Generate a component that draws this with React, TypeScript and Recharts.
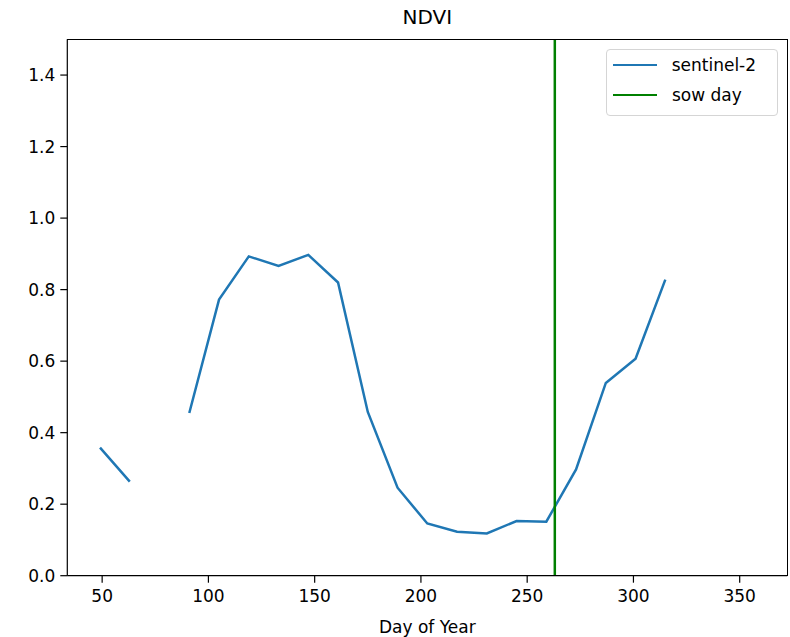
import React from "react";
import { LineChart, Line, XAxis, YAxis, ReferenceLine, Legend } from "recharts";

const days = [49, 63, 77, 91, 105, 119, 133, 147, 161, 175, 189, 203, 217, 231, 245, 259, 273, 287, 301, 315, 329, 343, 357];
const ndvi: (number | null)[] = [0.358, 0.263, null, 0.455, 0.772, 0.893, 0.866, 0.897, 0.82, 0.458, 0.246, 0.146, 0.123, 0.118, 0.153, 0.151, 0.297, 0.539, 0.607, 0.828, null, null, null];
const sowDay = 263;
const xTicks = [50, 100, 150, 200, 250, 300, 350];
const yTicks = [0, 0.2, 0.4, 0.6, 0.8, 1.0, 1.2, 1.4];
const seriesNames = ["sentinel-2", "sow day"];
const seriesColors = ["#1f77b4", "#008000"];

const data = days.map((d, i) => ({ day: d, ndvi: ndvi[i] }));

const FONT = "'DejaVu Sans', sans-serif";
const W = 790;
const H = 637;
const PL = 67.3;
const PR = 787.3;
const PT = 39.3;
const PB = 575.7;

const LegendBox = () => (
  <div
    style={{
      position: "absolute",
      left: 605.7,
      top: 49.3,
      width: 172.6,
      height: 66.7,
      boxSizing: "border-box",
      border: "1px solid #d5d5d5",
      borderRadius: 4,
      background: "rgba(255,255,255,0.8)",
      fontFamily: FONT,
      fontSize: 17,
      color: "#000",
    }}
  >
    {seriesNames.map((n, i) => (
      <div key={n} style={{ position: "absolute", left: 0, top: i * 30 + 14.5 - 12, height: 24, width: "100%" }}>
        <div style={{ position: "absolute", left: 6.3, top: 11, width: 43.7, height: 2.5, background: seriesColors[i] }} />
        <span style={{ position: "absolute", left: i === 0 ? 65 : 65.3, top: 1, lineHeight: "22px", whiteSpace: "nowrap" }}>{n}</span>
      </div>
    ))}
  </div>
);

export default function App() {
  return (
    <div style={{ position: "absolute", left: 0, top: 0, width: W, height: H, background: "#fff" }}>
      <LineChart
        width={W}
        height={H}
        data={data}
        margin={{ top: PT, right: W - PR, bottom: H - PB - 40, left: PL - 60 }}
      >
        <XAxis
          dataKey="day"
          type="number"
          domain={[33.6, 372.4]}
          ticks={xTicks}
          allowDataOverflow
          height={40}
          tickSize={7}
          tickMargin={7}
          stroke="#000"
          tick={{ fill: "#000", fontSize: 17, fontFamily: FONT }}
          tickLine={{ stroke: "#000", strokeWidth: 1.2 }}
          axisLine={{ stroke: "#000", strokeWidth: 1.2 }}
        />
        <YAxis
          type="number"
          domain={[0, 1.5]}
          ticks={yTicks}
          width={60}
          tickSize={7}
          tickMargin={5}
          stroke="#000"
          tickFormatter={(v: number) => v.toFixed(1)}
          tick={{ fill: "#000", fontSize: 17, fontFamily: FONT }}
          tickLine={{ stroke: "#000", strokeWidth: 1.2 }}
          axisLine={{ stroke: "#000", strokeWidth: 1.2 }}
        />
        <Line
          dataKey="ndvi"
          name={seriesNames[0]}
          stroke={seriesColors[0]}
          strokeWidth={2.5}
          dot={false}
          activeDot={false}
          connectNulls={false}
          isAnimationActive={false}
        />
        <ReferenceLine x={sowDay} stroke={seriesColors[1]} strokeWidth={2.5} />
        <Legend content={() => null} />
      </LineChart>
      <div
        style={{
          position: "absolute",
          left: PL - 0.6,
          top: PT - 0.6,
          width: PR - PL + 1.2,
          height: PB - PT + 1.2,
          boxSizing: "border-box",
          borderTop: "1.2px solid #000",
          borderRight: "1.2px solid #000",
          pointerEvents: "none",
        }}
      />
      <div style={{ position: "absolute", left: PL, width: PR - PL, top: 5, textAlign: "center", fontFamily: FONT, fontSize: 20, lineHeight: "24px", color: "#000" }}>NDVI</div>
      <div style={{ position: "absolute", left: PL, width: PR - PL, top: 616, textAlign: "center", fontFamily: FONT, fontSize: 17, lineHeight: "22px", color: "#000" }}>Day of Year</div>
      <LegendBox />
    </div>
  );
}
